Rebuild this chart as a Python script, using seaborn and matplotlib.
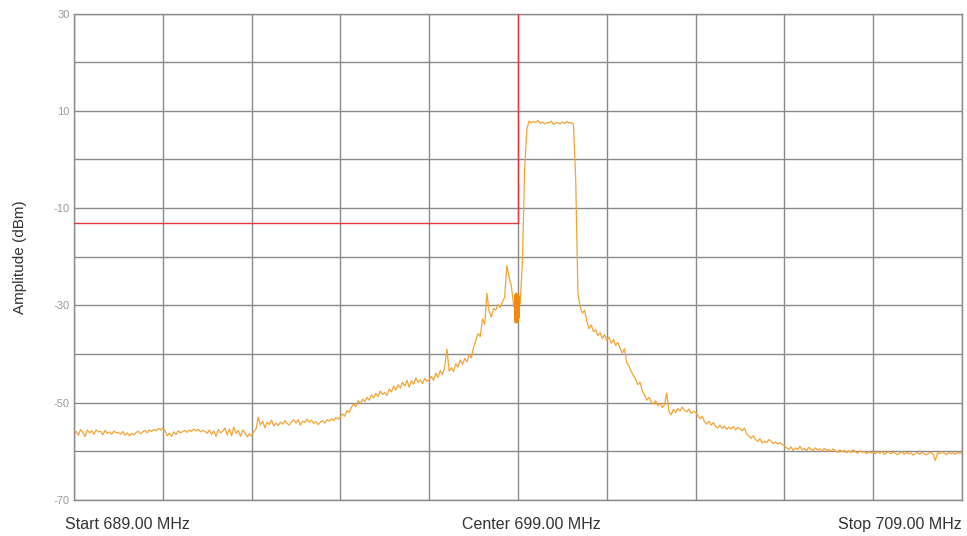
import numpy as np
import pandas as pd
import matplotlib
matplotlib.use("Agg")
import matplotlib.pyplot as plt
import matplotlib.transforms as mtransforms
import seaborn as sns

# sweep settings (MHz)
start_mhz = 689.0
stop_mhz = 709.0

# trace amplitude (dBm), one row per MHz, 0.05 MHz bins
amplitude = [
    -56.4, -55.9, -56.7, -55.5, -56.1, -57.0, -55.6, -56.2, -55.8, -56.5, -55.6, -56.0, -55.9, -56.6, -55.7, -56.3, -56.0, -56.5, -55.8, -56.2,
    -56.1, -56.5, -55.9, -56.7, -56.2, -56.8, -56.3, -56.6, -56.1, -55.9, -56.4, -56.0, -55.7, -56.2, -55.6, -55.9, -55.5, -55.8, -55.3, -55.6,
    -55.2, -55.7, -56.8, -56.3, -56.9, -56.0, -56.5, -55.8, -56.2, -55.9, -55.7, -56.1, -55.6, -55.9, -55.4, -55.8, -55.5, -56.0, -55.7, -55.9,
    -56.3, -55.6, -56.5, -55.8, -56.9, -55.5, -56.2, -55.9, -55.2, -56.6, -55.4, -56.8, -55.0, -56.3, -55.7, -56.9, -55.6, -56.2, -57.0, -56.4,
    -56.8, -56.0, -55.4, -53.0, -54.6, -53.8, -55.2, -54.0, -54.5, -53.6, -54.8, -54.2, -54.7, -54.0, -54.4, -53.7, -54.3, -54.6, -53.9, -53.5,
    -54.2, -53.5, -54.6, -53.8, -54.1, -53.4, -54.0, -53.6, -54.3, -53.9, -54.5, -54.0, -53.7, -54.2, -53.5, -53.8, -53.3, -53.7, -53.0, -53.4,
    -53.0, -52.3, -52.8, -51.6, -52.0, -50.9, -50.3, -50.8, -49.6, -50.2, -49.3, -49.8, -48.9, -49.5, -48.4, -49.0, -48.1, -48.7, -47.6, -48.3,
    -47.9, -48.5, -47.2, -47.8, -46.6, -47.4, -46.3, -47.0, -45.8, -46.6, -45.4, -46.8, -45.5, -46.2, -44.9, -45.8, -45.3, -46.1, -45.0, -45.6,
    -45.2, -44.6, -45.4, -43.9, -44.8, -43.4, -44.2, -42.6, -39.0, -43.5, -42.8, -43.6, -42.0, -42.7, -41.2, -42.1, -40.9, -41.6, -40.2, -40.8,
    -38.6, -37.2, -35.8, -36.4, -32.8, -33.9, -27.5, -31.2, -32.4, -30.6, -31.0, -29.8, -30.4, -29.2, -28.4, -21.8, -24.2, -26.0, -29.8, -31.5,
    -31.0, -29.6, -21.0, -2.0, 6.2, 7.9, 7.5, 7.8, 7.6, 8.0, 7.4, 7.7, 7.3, 7.6, 7.5, 7.9, 7.2, 7.5, 7.6, 7.3,
    7.7, 7.4, 7.8, 7.5, 7.6, 7.2, -4.0, -27.5, -30.2, -31.6, -31.0, -33.2, -34.8, -34.0, -35.4, -35.0, -36.2, -35.6, -36.8, -36.0,
    -37.2, -36.5, -37.8, -37.0, -38.2, -37.6, -38.8, -39.8, -38.9, -41.8, -42.5, -43.6, -44.4, -45.2, -46.3, -45.8, -47.6, -48.4, -49.5, -48.9,
    -49.8, -50.3, -49.6, -50.6, -50.1, -51.0, -50.4, -48.0, -51.8, -52.5, -51.4, -52.0, -51.2, -51.7, -50.9, -51.5, -51.9, -51.3, -52.2, -51.8,
    -52.0, -52.6, -53.3, -52.8, -53.9, -54.4, -53.8, -54.6, -54.1, -54.9, -55.2, -54.6, -55.3, -54.8, -55.5, -55.0, -55.4, -54.9, -55.6, -55.1,
    -55.3, -55.8, -55.2, -56.4, -56.9, -57.3, -56.8, -57.6, -58.0, -57.4, -58.3, -57.9, -58.2, -57.6, -57.9, -58.4, -58.1, -58.5, -58.2, -58.6,
    -58.8, -59.3, -59.6, -59.1, -59.8, -59.3, -59.6, -59.0, -59.7, -59.4, -59.9, -59.2, -59.6, -59.8, -59.3, -59.7, -59.5, -60.0, -59.4, -59.8,
    -59.6, -60.0, -59.5, -59.9, -60.2, -59.7, -60.1, -59.8, -60.3, -59.9, -60.2, -59.7, -60.1, -60.4, -59.9, -60.2, -60.0, -60.5, -60.1, -60.3,
    -60.2, -60.5, -60.1, -60.4, -60.0, -60.6, -60.3, -60.1, -60.5, -60.2, -60.4, -60.7, -60.3, -60.1, -60.6, -60.2, -60.5, -60.3, -60.8, -60.4,
    -60.3, -60.6, -60.2, -60.5, -60.7, -60.4, -60.2, -60.6, -61.9, -60.3, -60.5, -60.1, -60.4, -60.7, -60.2, -60.5, -60.3, -60.6, -60.2, -60.4,
    -60.3,
]

# carrier leakage burst just below centre
leak_freq = [698.93, 698.935, 698.94, 698.945, 698.95, 698.955, 698.96, 698.965, 698.97, 698.975, 698.98,
             698.985, 698.99, 698.995, 699.00, 699.005, 699.01, 699.015, 699.02, 699.025, 699.03]
leak_amp = [-28.5, -33.0, -27.8, -33.6, -28.2, -32.8, -27.5, -33.4, -28.0, -33.1, -27.7,
            -33.5, -28.3, -32.9, -27.9, -33.2, -28.6, -32.6, -28.1, -31.8, -29.0]

# marker
marker_freq = 699.0
marker_level = -13.0

y_ticks = [-70, -60, -50, -40, -30, -20, -10, 0, 10, 20, 30]
y_tick_labels = ["-70", "", "-50", "", "-30", "", "-10", "", "10", "", "30"]
x_grid = [689, 691, 693, 695, 697, 699, 701, 703, 705, 707, 709]
x_labels = ["Start 689.00 MHz", "Center 699.00 MHz", "Stop 709.00 MHz"]

freq = np.linspace(start_mhz, stop_mhz, len(amplitude))
df = pd.DataFrame({"freq": freq, "amp": amplitude})
leak = pd.DataFrame({"freq": leak_freq, "amp": leak_amp})

sns.set_style("white")
plt.rcParams["font.family"] = ["Liberation Sans", "DejaVu Sans"]

fig = plt.figure(figsize=(9.67, 5.36), dpi=100)
ax = fig.add_axes([0.0765, 0.0672, 0.9183, 0.9076])

sns.lineplot(data=df, x="freq", y="amp", ax=ax, estimator=None, color="#f4a436", linewidth=0.9)
sns.lineplot(data=leak, x="freq", y="amp", ax=ax, estimator=None, color="#f08a10", linewidth=1.2)

ax.plot([start_mhz, marker_freq], [marker_level, marker_level], color="#e2383a", linewidth=1.0, zorder=3)
ax.plot([marker_freq, marker_freq], [marker_level, 30], color="#e2383a", linewidth=1.0, zorder=3)

ax.set_xlim(start_mhz, stop_mhz)
ax.set_ylim(-70, 30)

for gx in x_grid:
    ax.axvline(gx, color="#8a8a8a", linewidth=1.0, zorder=0)
for gy in y_ticks:
    ax.axhline(gy, color="#8a8a8a", linewidth=1.0, zorder=0)

ax.set_yticks(y_ticks)
ax.set_yticklabels(y_tick_labels, fontsize=8, color="#9a9a9a")
ax.tick_params(axis="y", length=2, pad=1, color="#9a9a9a")

ax.set_xticks([start_mhz, marker_freq, stop_mhz])
ax.set_xticklabels(x_labels, fontsize=11.5, color="#333333")
ax.tick_params(axis="x", length=0, pad=12)
xt = ax.get_xticklabels()
xt[0].set_ha("left")
xt[0].set_transform(xt[0].get_transform() + mtransforms.ScaledTranslation(-9 / 100, 0, fig.dpi_scale_trans))
xt[1].set_transform(xt[1].get_transform() + mtransforms.ScaledTranslation(13 / 100, 0, fig.dpi_scale_trans))
xt[2].set_ha("right")

ax.set_xlabel("")
ax.set_ylabel("Amplitude (dBm)", fontsize=11, color="#333333", labelpad=19)

for s in ax.spines.values():
    s.set_color("#8a8a8a")
    s.set_linewidth(1.0)

fig.savefig("out.png", dpi=100)
plt.close(fig)
